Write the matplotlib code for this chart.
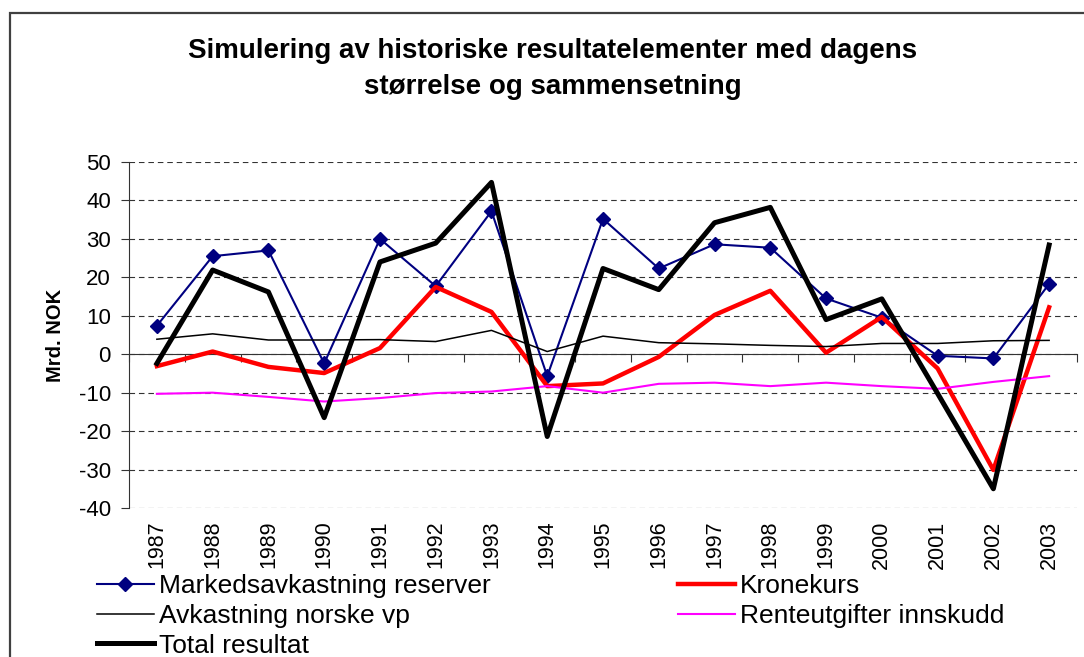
import matplotlib
matplotlib.use("Agg")
import matplotlib.pyplot as plt
from matplotlib.patches import Rectangle
import numpy as np

plt.rcParams['font.family'] = ['Liberation Sans', 'DejaVu Sans']
plt.rcParams['axes.unicode_minus'] = False

years = [str(y) for y in range(1987, 2004)]

markeds = [7.4, 25.5, 27.0, -2.4, 30.0, 17.7, 37.2, -5.7, 35.2, 22.3,
           28.6, 27.7, 14.5, 9.5, -0.4, -1.1, 18.3]
kronekurs = [-3.1, 0.7, -3.3, -4.9, 1.6, 17.5, 11.0, -8.3, -7.6, -0.7,
             10.2, 16.5, 0.4, 9.7, -3.7, -30.1, 12.2]
norske_vp = [3.9, 5.3, 3.7, 3.7, 3.8, 3.3, 6.2, 0.7, 4.7, 3.0,
             2.7, 2.3, 2.0, 2.8, 2.8, 3.5, 3.6]
renteutg = [-10.3, -10.0, -11.1, -12.3, -11.4, -10.1, -9.7, -8.3, -10.0, -7.7,
            -7.4, -8.3, -7.4, -8.3, -9.0, -7.2, -5.7]
total = [-2.4, 21.9, 16.2, -16.5, 24.0, 28.9, 44.7, -21.4, 22.3, 16.8,
         34.2, 38.2, 9.0, 14.4, -10.2, -35.0, 28.4]

title = "Simulering av historiske resultatelementer med dagens\nstørrelse og sammensetning"

fig = plt.figure(figsize=(10.84, 6.57), dpi=100)
ax = fig.add_axes([129 / 1084, 1 - 508 / 657, (1077 - 129) / 1084, (508 - 162) / 657])

# outer frame like the spreadsheet chart border
fig.patches.append(Rectangle((10 / 1084, -0.05), 1.1, 1 - 13 / 657 + 0.05,
                             transform=fig.transFigure, fill=False,
                             edgecolor='#404040', linewidth=1.6))

x = np.arange(len(years))

l_m, = ax.plot(x, markeds, color='#000080', lw=1.5, marker='D', ms=7,
               label='Markedsavkastning reserver')
l_k, = ax.plot(x, kronekurs, color='#ff0000', lw=3.2, label='Kronekurs')
l_a, = ax.plot(x, norske_vp, color='black', lw=1.1, label='Avkastning norske vp')
l_r, = ax.plot(x, renteutg, color='#ff00ff', lw=1.5, label='Renteutgifter innskudd')
l_t, = ax.plot(x, total, color='black', lw=3.6, label='Total resultat')

ax.set_xlim(-0.5, len(years) - 0.5)
ax.set_ylim(-40, 50)
ax.set_yticks(range(-40, 51, 10))
ax.yaxis.grid(True, color='#333333', ls=(0, (5, 3.5)), lw=0.8)
ax.set_axisbelow(True)

for s in ['top', 'right', 'bottom']:
    ax.spines[s].set_visible(False)
ax.spines['left'].set_color('#333333')

ax.tick_params(axis='y', direction='out', length=6, width=0.8, color='#333333',
               labelsize=16, pad=7)
ax.set_xticks(x)
ax.set_xticklabels(years, rotation=90, fontsize=15.5)
ax.tick_params(axis='x', length=0, pad=9)

# category axis crossing at zero
zax = ax.secondary_xaxis(40 / 90)
zax.set_xticks(np.arange(len(years) + 1) - 0.5)
zax.set_xticklabels([])
zax.tick_params(direction='out', length=6, width=0.8, color='#333333')
zax.spines['bottom'].set_color('#333333')

ax.set_ylabel('Mrd. NOK', fontsize=14.5, fontweight='bold', labelpad=10)

fig.text(553 / 1084, 1 - 69 / 657, title, ha='center', va='center',
         fontsize=20, fontweight='bold', linespacing=1.5)

fig.legend([l_m, l_a, l_t, l_k, l_r],
           [l.get_label() for l in [l_m, l_a, l_t, l_k, l_r]],
           ncol=2, loc='upper left', bbox_to_anchor=(97 / 1084, 1 - 574 / 657),
           frameon=False, fontsize=19, handlelength=2.15, handletextpad=0.2,
           labelspacing=0.22, columnspacing=7.1, borderpad=0, borderaxespad=0)

fig.savefig('out.png', dpi=100)
